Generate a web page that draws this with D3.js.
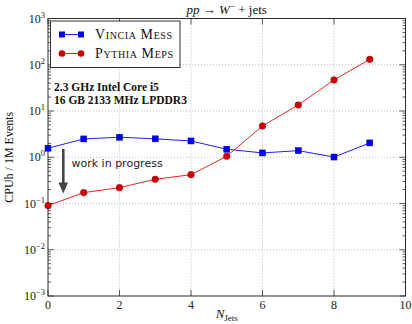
<!DOCTYPE html>
<html><head><meta charset="utf-8">
<script src="https://cdn.jsdelivr.net/npm/d3@7"></script>
<style>
body{margin:0;background:#fff;}
</style></head>
<body><svg id="c" width="412" height="324" style="font-family:'Liberation Serif',serif"></svg>
<script>
const nJets = [0,1,2,3,4,5,6,7,8,9];
const vinciaMess = [1.57,2.49,2.71,2.5,2.25,1.49,1.24,1.39,1.01,2.04];
const pythiaMeps = [0.090,0.172,0.220,0.334,0.42,1.05,4.75,13.5,46.9,131];
const xTicks = [0,2,4,6,8,10];
const yExps = [-3,-2,-1,0,1,2,3];
const seriesNames = ["Vincia Mess","Pythia Meps"];

const svg = d3.select("#c");
const L=48, R=405.5, T=18.5, B=296;
const x = d3.scaleLinear().domain([0,10]).range([L,R]);
const y = d3.scaleLog().domain([1e-3,1e3]).range([B,T]);

// grid
const g = svg.append("g");
xTicks.slice(1,-1).forEach(v=>{
  g.append("line").attr("x1",x(v)).attr("x2",x(v)).attr("y1",T).attr("y2",B)
   .attr("stroke","#aaa").attr("stroke-width",0.8).attr("stroke-dasharray","1,2");
});
yExps.slice(1,-1).forEach(e=>{
  g.append("line").attr("x1",L).attr("x2",R).attr("y1",y(Math.pow(10,e))).attr("y2",y(Math.pow(10,e)))
   .attr("stroke","#aaa").attr("stroke-width",0.8).attr("stroke-dasharray","1,2");
});

// ticks (inside, all sides)
const tk = svg.append("g").attr("stroke","#333").attr("stroke-width",0.8);
yExps.forEach(e=>{
  const yy=y(Math.pow(10,e));
  tk.append("line").attr("x1",L).attr("x2",L+6).attr("y1",yy).attr("y2",yy);
  tk.append("line").attr("x1",R).attr("x2",R-6).attr("y1",yy).attr("y2",yy);
  if(e<3){
    for(let m=2;m<=9;m++){
      const ym=y(m*Math.pow(10,e));
      tk.append("line").attr("x1",L).attr("x2",L+3).attr("y1",ym).attr("y2",ym);
      tk.append("line").attr("x1",R).attr("x2",R-3).attr("y1",ym).attr("y2",ym);
    }
  }
});
xTicks.forEach(v=>{
  tk.append("line").attr("x1",x(v)).attr("x2",x(v)).attr("y1",B).attr("y2",B-6);
  tk.append("line").attr("x1",x(v)).attr("x2",x(v)).attr("y1",T).attr("y2",T+6);
});

// frame
svg.append("rect").attr("x",L).attr("y",T).attr("width",R-L).attr("height",B-T)
  .attr("fill","none").attr("stroke","#2a2a2a").attr("stroke-width",1);

// tick labels
xTicks.forEach(v=>{
  svg.append("text").attr("x",x(v)).attr("y",B+13).attr("text-anchor","middle")
   .style("font-size","12px").attr("fill","#222").text(v);
});
yExps.forEach(e=>{
  const t=svg.append("text").attr("x",L-3).attr("y",y(Math.pow(10,e))+4).attr("text-anchor","end")
   .style("font-size","12px").attr("fill","#222");
  t.append("tspan").text("10");
  t.append("tspan").attr("dy",-5).style("font-size","8.5px").text(e<0?"\u2212"+(-e):String(e));
});

// lines
const line = d3.line().x((d,i)=>x(nJets[i])).y(d=>y(d));
svg.append("path").datum(vinciaMess).attr("d",line).attr("fill","none").attr("stroke","#1f1fff").attr("stroke-width",1);
svg.append("path").datum(pythiaMeps).attr("d",line).attr("fill","none").attr("stroke","#e8262a").attr("stroke-width",1);
svg.append("g").selectAll("rect").data(vinciaMess).join("rect")
  .attr("x",(d,i)=>x(nJets[i])-3).attr("y",d=>y(d)-3).attr("width",6).attr("height",6)
  .attr("fill","#0000ee").attr("stroke","#0000aa").attr("stroke-width",0.5);
svg.append("g").selectAll("circle").data(pythiaMeps).join("circle")
  .attr("cx",(d,i)=>x(nJets[i])).attr("cy",d=>y(d)).attr("r",3.3)
  .attr("fill","#cc0000").attr("stroke","#990000").attr("stroke-width",0.5);

// legend
svg.append("rect").attr("x",50.5).attr("y",21).attr("width",129.5).attr("height",46.5)
  .attr("fill","#fff").attr("stroke","#333").attr("stroke-width",1);
const leg=[{y:34.5,c:"#1f1fff",m:"sq"},{y:53.5,c:"#e8262a",m:"ci"}];
leg.forEach((l,i)=>{
  svg.append("line").attr("x1",62).attr("x2",81).attr("y1",l.y).attr("y2",l.y).attr("stroke",l.c).attr("stroke-width",1);
  [62,81].forEach(xx=>{
    if(l.m==="sq") svg.append("rect").attr("x",xx-3).attr("y",l.y-3).attr("width",6).attr("height",6).attr("fill","#0000ee");
    else svg.append("circle").attr("cx",xx).attr("cy",l.y).attr("r",3.3).attr("fill","#cc0000");
  });
  svg.append("text").attr("x",95).attr("y",l.y+4.5).style("font-size","14px").style("letter-spacing","0.6px")
    .style("font-variant","small-caps").attr("fill","#111").text(seriesNames[i]);
});

// hardware text
["2.3 GHz Intel Core i5","16 GB 2133 MHz LPDDR3"].forEach((s,i)=>{
  svg.append("text").attr("x",54).attr("y",90.5+i*13.5).style("font-size","11.5px").style("font-weight","bold")
   .attr("fill","#111").text(s);
});

// arrow + wip
svg.append("line").attr("x1",63.3).attr("x2",63.3).attr("y1",149).attr("y2",183).attr("stroke","#444").attr("stroke-width",2.6);
svg.append("path").attr("d",`M${58.5},182.5 L${68.1},182.5 L63.3,193.5 Z`).attr("fill","#444");
svg.append("text").attr("x",71.5).attr("y",166.5).style("font-size","11px").style("font-family","'DejaVu Sans',sans-serif")
  .attr("fill","#222").text("work in progress");

// title
const tt=svg.append("text").attr("x",(L+R)/2).attr("y",14).attr("text-anchor","middle").style("font-size","13px").attr("fill","#111");
tt.append("tspan").style("font-style","italic").text("pp");
tt.append("tspan").text(" \u2192 ");
tt.append("tspan").style("font-style","italic").text("W");
tt.append("tspan").attr("dy",-5).style("font-size","9px").text("\u2212");
tt.append("tspan").attr("dy",5).text(" + jets");

// axis labels
svg.append("text").attr("transform",`translate(13,${(T+B)/2}) rotate(-90)`).attr("text-anchor","middle")
  .style("font-size","12px").attr("fill","#111").text("CPUh / 1M Events");
const xl=svg.append("text").attr("x",(L+R)/2).attr("y",318).attr("text-anchor","middle").style("font-size","13px").attr("fill","#111");
xl.append("tspan").style("font-style","italic").text("N");
xl.append("tspan").attr("dy",3).style("font-size","9px").text("Jets");
</script></body></html>
